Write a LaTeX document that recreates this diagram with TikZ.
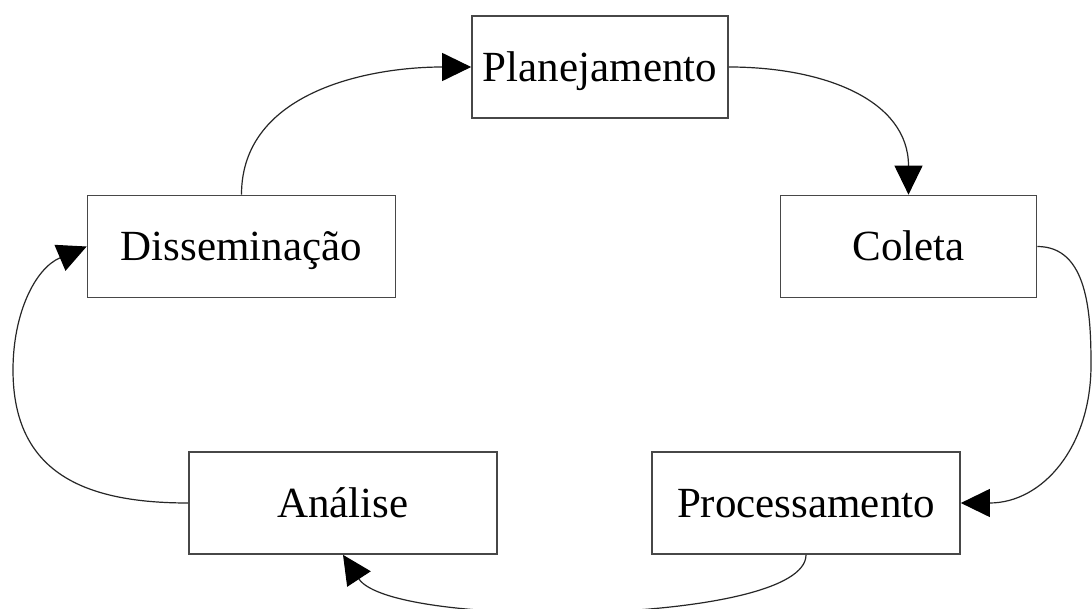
\documentclass[tikz,border=0pt]{standalone}
\usepackage{fontspec}
\setmainfont{Liberation Serif}
\usetikzlibrary{arrows.meta}
\begin{document}
\begin{tikzpicture}[x=1pt,y=1pt,
  stage/.style={draw=black!72, line width=1.7pt, fill=white, minimum height=102pt,
    inner sep=0pt, font=\fontsize{43}{50}\selectfont, text height=28.5pt, text depth=0pt},
  wide/.style={stage, minimum width=308pt},
  narrow/.style={stage, minimum width=256pt},
  flow/.style={draw=black!85, line width=1.2pt,
    -{Triangle[length=29pt,width=28pt,color=black]}}]
\useasboundingbox[fill=white] (0,0) rectangle (1092,-609);
% the five stages of the cycle
\node[narrow] (pl) at (600,-67) {Planejamento};
\node[wide] (di) at (241.5,-246.5) {Disseminação};
\node[narrow] (co) at (908.5,-246.5) {Coleta};
\node[wide] (an) at (343,-503) {Análise};
\node[wide] (pr) at (806,-503) {Processamento};
% waypoints of the two outer arcs
\coordinate (re) at (1091,-365);
\coordinate (le) at (13,-370);
% connectors
\draw[flow] (di.north) to[out=90,in=180] (pl.west);
\draw[flow] (pl.east) to[out=0,in=90,looseness=1.1] (co.north);
\draw[flow] (co.east) to[out=0,in=90] (re) to[out=-90,in=0,looseness=1.1] (pr.east);
\draw[flow] (pr.south) .. controls +(0,-70) and +(49.5,-75) .. (an.south);
\draw[flow] (an.west) to[out=180,in=-90,looseness=1.2] (le) to[out=90,in=203] (di.west);
\end{tikzpicture}
\end{document}
